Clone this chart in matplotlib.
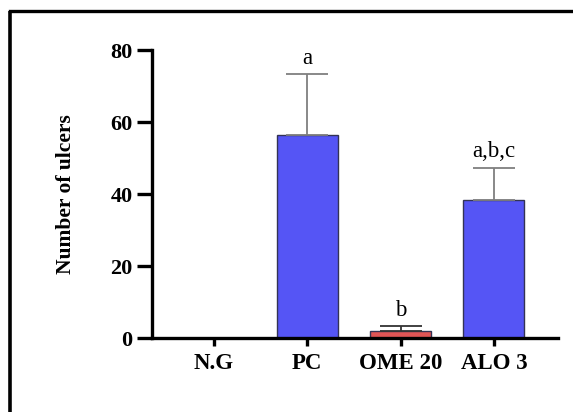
import matplotlib
matplotlib.use("Agg")
import matplotlib.pyplot as plt
from matplotlib.lines import Line2D

categories = ["N.G", "PC", "OME 20", "ALO 3"]
means = [0, 56.5, 2.0, 38.4]
errors = [0, 16.8, 1.2, 8.9]
letters = ["", "a", "b", "a,b,c"]
bar_colors = ["#5555F5", "#5555F5", "#E05555", "#5555F5"]
err_colors = ["#7f7f7f", "#7f7f7f", "#333333", "#7f7f7f"]
yticks = [0, 20, 40, 60, 80]

fig = plt.figure(figsize=(5.73, 4.12), dpi=100)
ax = fig.add_axes([152/573, 74/412, 406/573, 288/412])

x = list(range(len(categories)))
ax.bar(x, means, width=0.655, color=bar_colors, edgecolor="#333355", linewidth=1.0, zorder=2)
for xi, m, e, c, lab in zip(x, means, errors, err_colors, letters):
    if e > 0:
        ax.errorbar([xi], [m], yerr=[[0], [e]], fmt="none", ecolor=c, elinewidth=1.3,
                    capsize=15, capthick=1.3, zorder=3)
    if lab:
        ax.text(xi, m + e + 1.5, lab, ha="center", va="bottom", fontsize=16.5,
                family="Liberation Serif")

ax.set_xlim(-0.665, 3.687)
ax.set_ylim(0, 80)
ax.set_yticks(yticks)
ax.set_xticks(x)
ax.set_xticklabels(categories)
for s in ["top", "right"]:
    ax.spines[s].set_visible(False)
for s in ["left", "bottom"]:
    ax.spines[s].set_linewidth(2.4)
ax.tick_params(axis="y", length=11, width=2.4, pad=3)
ax.tick_params(axis="x", length=6, width=2.4, pad=5)
for lab in ax.get_yticklabels():
    lab.set_family("Liberation Serif")
    lab.set_fontweight("bold")
    lab.set_fontsize(16)
for lab in ax.get_xticklabels():
    lab.set_family("Liberation Serif")
    lab.set_fontweight("bold")
    lab.set_fontsize(16.5)
ax.set_ylabel("Number of ulcers", family="Liberation Serif", fontweight="bold",
              fontsize=15.5, labelpad=25)

# outer frame (top and left edges)
fig.add_artist(Line2D([10/573, 10/573], [0, 1 - 11/412], color="black", lw=2.6,
                      transform=fig.transFigure, solid_capstyle="butt"))
fig.add_artist(Line2D([10/573, 1], [1 - 11/412, 1 - 11/412], color="black", lw=2.4,
                      transform=fig.transFigure, solid_capstyle="projecting"))

fig.savefig("out.png", dpi=100)
